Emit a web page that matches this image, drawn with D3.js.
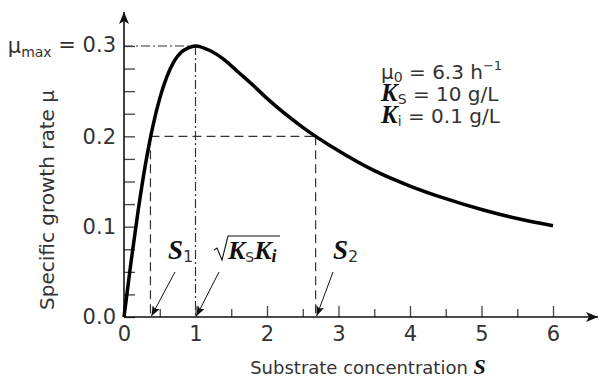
<!DOCTYPE html>
<html>
<head>
<meta charset="utf-8">
<script src="https://cdn.jsdelivr.net/npm/d3@7"></script>
<style>
  body { margin: 0; background: #fff; }
  svg { display: block; }
  .axis text { font-family: "DejaVu Sans", sans-serif; font-size: 21px; fill: #333; }
  .lbl { font-family: "DejaVu Sans", sans-serif; fill: #333; }
  .it { font-family: "Liberation Serif", serif; font-style: italic; font-weight: bold; fill: #111; }
</style>
</head>
<body>
<div id="chart"></div>
<script>
// values
const substrate = [0, 0.05, 0.1, 0.2, 0.3, 0.4, 0.5, 0.6, 0.7, 0.8, 0.9, 1.0, 1.2, 1.4, 1.6, 1.8, 2.0, 2.5, 3.0, 3.5, 4.0, 4.5, 5.0, 5.5, 6.0];
const growthRate = [0, 0.031, 0.062, 0.119, 0.169, 0.210, 0.242, 0.266, 0.283, 0.293, 0.298, 0.300, 0.295, 0.285, 0.271, 0.257, 0.242, 0.210, 0.184, 0.162, 0.145, 0.131, 0.119, 0.109, 0.101];
const xTicks = [0, 1, 2, 3, 4, 5, 6];
const xMinorTicks = [0.5, 1.5, 2.5, 3.5, 4.5, 5.5];
const yTicks = [0, 0.025, 0.05, 0.075, 0.1, 0.125, 0.15, 0.175, 0.2, 0.225, 0.25, 0.275, 0.3];
const muMax = 0.3, sPeak = 1.0;
const muLevel = 0.2, s1 = 0.37, s2 = 2.68;

const width = 599, height = 380;
const svg = d3.select("#chart").append("svg")
    .attr("width", width).attr("height", height);

const x = d3.scaleLinear().domain([0, 6]).range([124, 553]);
const y = d3.scaleLinear().domain([0, 0.3]).range([317, 46]);

const defs = svg.append("defs");
defs.append("marker")
    .attr("id", "axArrow")
    .attr("viewBox", "0 0 12 10")
    .attr("refX", 12).attr("refY", 5)
    .attr("markerWidth", 12).attr("markerHeight", 10)
    .attr("markerUnits", "userSpaceOnUse")
    .attr("orient", "auto")
    .append("path").attr("d", "M0,0 L12,5 L0,10 L3,5 Z").attr("fill", "#111");
defs.append("marker")
    .attr("id", "smallArrow")
    .attr("viewBox", "0 0 10 8")
    .attr("refX", 10).attr("refY", 4)
    .attr("markerWidth", 10).attr("markerHeight", 8)
    .attr("markerUnits", "userSpaceOnUse")
    .attr("orient", "auto")
    .append("path").attr("d", "M0,0 L10,4 L0,8 L2,4 Z").attr("fill", "#111");

// reference lines
const dashed = "9,5", dashDot = "9,3,2,3";
const refs = [
    { x1: 0, y1: muMax, x2: sPeak, y2: muMax, dash: dashDot },
    { x1: sPeak, y1: muMax, x2: sPeak, y2: 0, dash: dashDot },
    { x1: s1, y1: muLevel, x2: s2, y2: muLevel, dash: dashed },
    { x1: s1, y1: muLevel, x2: s1, y2: 0, dash: dashed },
    { x1: s2, y1: muLevel, x2: s2, y2: 0, dash: dashed }
];
svg.append("g").selectAll("line").data(refs).join("line")
    .attr("x1", d => x(d.x1)).attr("y1", d => y(d.y1))
    .attr("x2", d => x(d.x2)).attr("y2", d => y(d.y2))
    .attr("stroke", "#333").attr("stroke-width", 1.2)
    .attr("stroke-dasharray", d => d.dash);

// axes
const xAxis = d3.axisBottom(x).tickValues(xTicks).tickSize(-11).tickPadding(9).tickFormat(d3.format("d"));
const xMinor = d3.axisBottom(x).tickValues(xMinorTicks).tickSize(-8).tickFormat("");
const yAxis = d3.axisLeft(y).tickValues(yTicks).tickSize(-11).tickPadding(8)
    .tickFormat(d => (Math.abs(d * 10 - Math.round(d * 10)) < 1e-6 && d < 0.29) ? d3.format(".1f")(d) : "");

const gx = svg.append("g").attr("class", "axis").attr("transform", `translate(0,${y(0)})`).call(xAxis);
const gxm = svg.append("g").attr("class", "axis").attr("transform", `translate(0,${y(0)})`).call(xMinor);
const gy = svg.append("g").attr("class", "axis").attr("transform", `translate(${x(0)},0)`).call(yAxis);
[gx, gxm, gy].forEach(g => {
    g.select(".domain").remove();
    g.selectAll(".tick line").attr("stroke", "#444").attr("stroke-width", 1.3);
});

svg.append("line")
    .attr("x1", x(0)).attr("y1", y(0)).attr("x2", x(6.63)).attr("y2", y(0))
    .attr("stroke", "#111").attr("stroke-width", 1.6).attr("marker-end", "url(#axArrow)");
svg.append("line")
    .attr("x1", x(0)).attr("y1", y(0)).attr("x2", x(0)).attr("y2", y(0.3376))
    .attr("stroke", "#111").attr("stroke-width", 1.6).attr("marker-end", "url(#axArrow)");

// curve
const line = d3.line()
    .x((d, i) => x(substrate[i]))
    .y(d => y(d))
    .curve(d3.curveMonotoneX);
svg.append("path")
    .datum(growthRate)
    .attr("d", line)
    .attr("fill", "none")
    .attr("stroke", "#000")
    .attr("stroke-width", 3.5)
    .attr("stroke-linejoin", "round");

// mu max label
const mm = svg.append("text").attr("class", "lbl").attr("font-size", 21)
    .attr("x", x(0) - 8).attr("y", y(muMax)).attr("dy", "0.35em").attr("text-anchor", "end");
mm.append("tspan").text("μ");
mm.append("tspan").attr("font-size", 14).attr("dy", "0.25em").text("max");
mm.append("tspan").attr("dy", "-0.25em").text(" = 0.3");

// axis titles
const xt = svg.append("text").attr("class", "lbl").attr("font-size", 18)
    .attr("x", 368).attr("y", 374).attr("text-anchor", "middle");
xt.append("tspan").text("Substrate concentration ");
xt.append("tspan").attr("class", "it").attr("font-size", 22).text("S");

svg.append("text").attr("class", "lbl").attr("font-size", 20)
    .attr("transform", "translate(54,200) rotate(-90)")
    .attr("text-anchor", "middle")
    .text("Specific growth rate μ");

// parameter block
const params = [
    { sym: "μ", symIt: false, sub: "0", rest: " = 6.3 h", sup: "−1" },
    { sym: "K", symIt: true, sub: "S", rest: " = 10 g/L", sup: "" },
    { sym: "K", symIt: true, sub: "i", rest: " = 0.1 g/L", sup: "" }
];
params.forEach((p, i) => {
    const t = svg.append("text").attr("class", "lbl").attr("font-size", 20)
        .attr("x", 381).attr("y", 79 + i * 22);
    t.append("tspan").attr("class", p.symIt ? "it" : null).attr("font-size", p.symIt ? 25 : 20).text(p.sym);
    t.append("tspan").attr("font-size", 14).attr("dy", 3).text(p.sub);
    t.append("tspan").attr("dy", -3).text(p.rest);
    if (p.sup) t.append("tspan").attr("font-size", 13).attr("dy", -9).text(p.sup);
});

// annotations with arrows
const ann = [
    { s: s1, tx: 168, label: "S", sub: "1", ax: 175 },
    { s: s2, tx: 333, label: "S", sub: "2", ax: 333 }
];
ann.forEach(a => {
    const t = svg.append("text").attr("class", "lbl").attr("x", a.tx).attr("y", 259);
    t.append("tspan").attr("class", "it").attr("font-size", 27).text(a.label);
    t.append("tspan").attr("font-size", 16).attr("dy", 3).text(a.sub);
    svg.append("line")
        .attr("x1", a.ax).attr("y1", 272).attr("x2", x(a.s) + 1).attr("y2", y(0) - 1)
        .attr("stroke", "#111").attr("stroke-width", 1).attr("marker-end", "url(#smallArrow)");
});

// sqrt(Ks Ki)
const rx = 222;
svg.append("path")
    .attr("d", `M${rx - 8},250 L${rx - 5},248 L${rx},260 L${rx + 6},236 L${rx + 58},236`)
    .attr("fill", "none").attr("stroke", "#111").attr("stroke-width", 1.1);
const sq = svg.append("text").attr("class", "lbl").attr("x", rx + 6).attr("y", 259);
sq.append("tspan").attr("class", "it").attr("font-size", 26).text("K");
sq.append("tspan").attr("font-size", 14).attr("dy", 3).text("S");
sq.append("tspan").attr("class", "it").attr("font-size", 26).attr("dy", -3).text("K");
sq.append("tspan").attr("class", "it").attr("font-size", 18).attr("dy", 3).text("i");
svg.append("line")
    .attr("x1", 219).attr("y1", 272).attr("x2", x(sPeak) + 1).attr("y2", y(0) - 1)
    .attr("stroke", "#111").attr("stroke-width", 1).attr("marker-end", "url(#smallArrow)");
</script>
</body>
</html>
